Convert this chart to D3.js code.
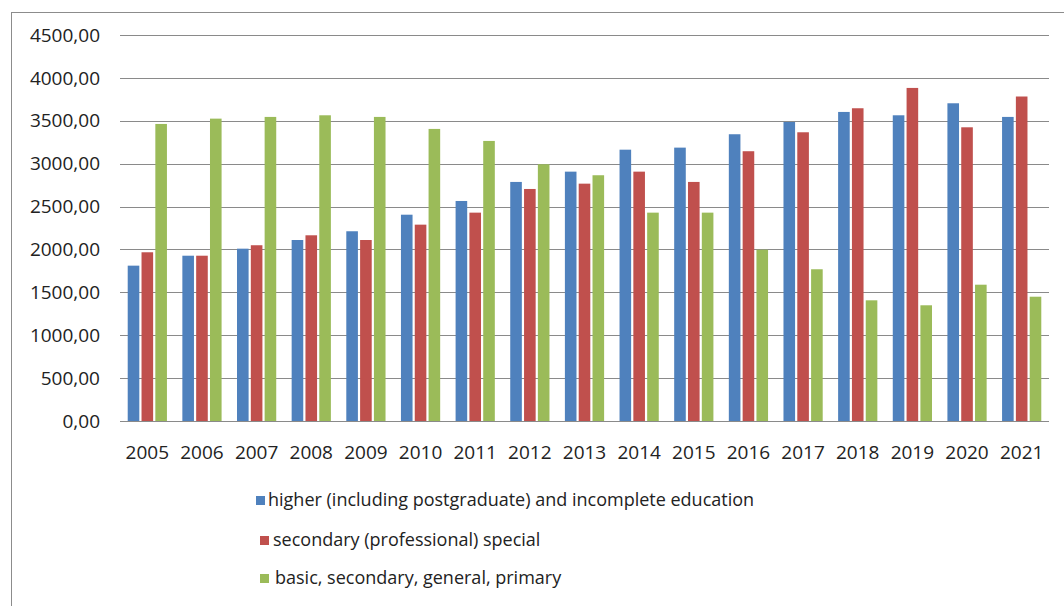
<!DOCTYPE html>
<html>
<head>
<meta charset="utf-8">
<script src="https://cdn.jsdelivr.net/npm/d3@7"></script>
<style>
  body { margin: 0; background: #fff; }
  text { font-family: "Open Sans", sans-serif; fill: #222; }
</style>
</head>
<body>
<div id="chart"></div>
<script>
// Data
var years = ["2005", "2006", "2007", "2008", "2009", "2010", "2011", "2012", "2013",
  "2014", "2015", "2016", "2017", "2018", "2019", "2020", "2021"];
var seriesNames = ["higher (including postgraduate) and incomplete education",
  "secondary (professional) special",
  "basic, secondary, general, primary"];
var higher = [1811, 1927, 2009, 2110, 2212, 2405, 2565, 2787, 2907, 3163, 3187, 3343, 3486, 3603, 3564, 3704, 3545];
var secondary = [1967, 1927, 2049, 2165, 2110, 2289, 2429, 2705, 2767, 2907, 2787, 3145, 3366, 3646, 3883, 3424, 3783];
var basic = [3463, 3525, 3545, 3564, 3545, 3405, 3265, 2993, 2865, 2429, 2429, 1997, 1769, 1407, 1349, 1589, 1449];
var yTicks = [0, 500, 1000, 1500, 2000, 2500, 3000, 3500, 4000, 4500];
var colors = ["#4f81bd", "#c0504d", "#9bbb59"];

var svgWidth = 1064;
var svgHeight = 606;
var margin = { top: 35, right: 15, bottom: 185, left: 120 };
var width = 1049 - margin.left;
var height = 421 - margin.top;

var svg = d3.select("#chart")
  .append("svg")
  .attr("width", svgWidth)
  .attr("height", svgHeight);

// outer frame (runs off the right and bottom edges)
svg.append("rect")
  .attr("x", 11.5)
  .attr("y", 12.5)
  .attr("width", 1070)
  .attr("height", 620)
  .attr("fill", "none")
  .attr("stroke", "#8c8c8c");

var chartGroup = svg.append("g")
  .attr("transform", `translate(${margin.left}, ${margin.top})`);

var x0 = d3.scaleBand().domain(years).range([0, width]);
var x1 = d3.scaleBand().domain(d3.range(3))
  .range([5.5, x0.bandwidth() - 5.5])
  .padding(0.16);
var y = d3.scaleLinear().domain([0, 4500]).range([height, 0]);

// gridlines
chartGroup.selectAll(".grid")
  .data(yTicks)
  .enter()
  .append("line")
  .attr("x1", 0)
  .attr("x2", width)
  .attr("y1", d => Math.round(y(d)) + 0.5)
  .attr("y2", d => Math.round(y(d)) + 0.5)
  .attr("stroke", "#8a8a8a")
  .attr("stroke-width", 1.2);

// y tick labels
chartGroup.selectAll(".ylab")
  .data(yTicks)
  .enter()
  .append("text")
  .attr("x", -20)
  .attr("y", d => y(d))
  .attr("dy", "0.35em")
  .attr("text-anchor", "end")
  .style("font-size", "19px")
  .text(d => d3.format(".2f")(d).replace(".", ","));

// bars
var allSeries = [higher, secondary, basic];
var groups = chartGroup.selectAll(".year")
  .data(years)
  .enter()
  .append("g")
  .attr("transform", d => `translate(${x0(d)}, 0)`);

groups.selectAll("rect")
  .data((d, i) => allSeries.map((s, k) => ({ k: k, v: s[i] })))
  .enter()
  .append("rect")
  .attr("x", d => x1(d.k))
  .attr("y", d => y(d.v))
  .attr("width", x1.bandwidth())
  .attr("height", d => height - y(d.v))
  .attr("fill", d => colors[d.k]);

// x labels
chartGroup.selectAll(".xlab")
  .data(years)
  .enter()
  .append("text")
  .attr("x", d => x0(d) + x0.bandwidth() / 2)
  .attr("y", height + 31)
  .attr("dy", "0.35em")
  .attr("text-anchor", "middle")
  .style("font-size", "19px")
  .text(d => d);

// legend
var legendX = [256, 260, 260];
var textX = [268, 273, 275];
var legendY = [500, 540, 578];
var legend = svg.selectAll(".legend")
  .data(seriesNames)
  .enter()
  .append("g");

legend.append("rect")
  .attr("x", (d, i) => legendX[i])
  .attr("y", (d, i) => legendY[i] - 4)
  .attr("width", 9)
  .attr("height", 9)
  .attr("fill", (d, i) => colors[i]);

legend.append("text")
  .attr("x", (d, i) => textX[i])
  .attr("y", (d, i) => legendY[i])
  .attr("dy", "0.35em")
  .style("font-size", "18px")
  .text(d => d);
</script>
</body>
</html>
